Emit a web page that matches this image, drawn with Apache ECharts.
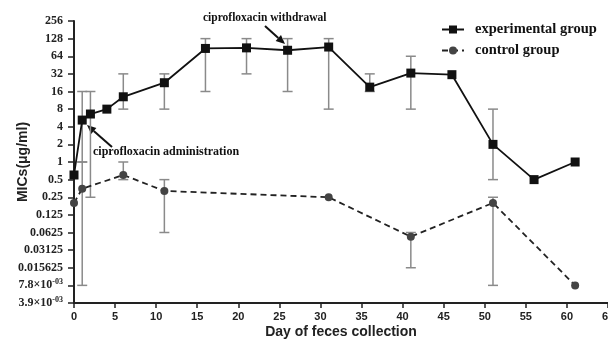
<!DOCTYPE html>
<html>
<head>
<meta charset="utf-8">
<script src="https://cdn.jsdelivr.net/npm/echarts@6/dist/echarts.min.js"></script>
<style>
  html, body { margin: 0; padding: 0; background: #fff; }
  #chart { width: 608px; height: 342px; }
</style>
</head>
<body>
<div id="chart"></div>
<script>
// data
const expDays = [0, 1, 2, 4, 6, 11, 16, 21, 26, 31, 36, 41, 46, 51, 56, 61];
const expValues = [0.6, 5.2, 6.6, 8, 13, 22.6, 87, 89, 81, 92, 19, 33, 31, 2, 0.5, 1];
const ctrlDays = [0, 1, 6, 11, 31, 41, 51, 61];
const ctrlValues = [0.2, 0.35, 0.6, 0.32, 0.25, 0.053, 0.2, 0.0078];

// error bars: day, low, high
const expErrDays = [1, 2, 6, 11, 16, 21, 26, 31, 36, 41, 51];
const expErrLow = [1, 0.25, 8, 8, 16, 32, 16, 8, 16, 8, 0.5];
const expErrHigh = [16, 16, 32, 32, 128, 128, 128, 128, 32, 64, 8];
const ctrlErrDays = [1, 6, 11, 41, 51];
const ctrlErrLow = [0.0078125, 0.5, 0.0625, 0.015625, 0.0078125];
const ctrlErrHigh = [1, 1, 0.5, 0.0625, 0.25];

const chart = echarts.init(document.getElementById("chart"));

const serif = "'Liberation Serif', 'DejaVu Serif', serif";
const sans = "'Liberation Sans', Arial, sans-serif";

const pairs = (xs, ys) => xs.map((x, i) => [x, ys[i]]);
const errData = (d, lo, hi) => d.map((x, i) => [x, lo[i], hi[i]]);

const renderErr = (params, api) => {
  const x = api.value(0);
  const lo = api.coord([x, api.value(1)]);
  const hi = api.coord([x, api.value(2)]);
  const w = 5;
  const style = { stroke: "#8a8a8a", lineWidth: 1.5 };
  return {
    type: "group",
    children: [
      { type: "line", shape: { x1: lo[0], y1: lo[1], x2: hi[0], y2: hi[1] }, style },
      { type: "line", shape: { x1: hi[0] - w, y1: hi[1], x2: hi[0] + w, y2: hi[1] }, style },
      { type: "line", shape: { x1: lo[0] - w, y1: lo[1], x2: lo[0] + w, y2: lo[1] }, style },
    ],
  };
};

const yLabel = (v) => {
  const p = Math.round(Math.log2(v));
  if (p === -7) return "{n|7.8×10}{s|-03}";
  if (p === -8) return "{n|3.9×10}{s|-03}";
  return "{n|" + String(Math.pow(2, p)) + "}";
};

// arrow helper (annotation only)
const arrow = (x1, y1, x2, y2) => {
  const a = Math.atan2(y2 - y1, x2 - x1);
  const L = 9, W = 4;
  const bx = x2 - L * Math.cos(a), by = y2 - L * Math.sin(a);
  return [
    { type: "line", shape: { x1, y1, x2: bx, y2: by }, style: { stroke: "#111", lineWidth: 2 } },
    {
      type: "polygon",
      shape: {
        points: [
          [x2, y2],
          [bx + W * Math.sin(a), by - W * Math.cos(a)],
          [bx - W * Math.sin(a), by + W * Math.cos(a)],
        ],
      },
      style: { fill: "#111" },
    },
  ];
};

const option = {
  animation: false,
  grid: { left: 74, right: 0, top: 21, bottom: 39, containLabel: false, outerBoundsMode: "none" },
  legend: {
    data: ["experimental group", "control group"],
    orient: "vertical",
    left: 436,
    top: 17,
    itemGap: 6,
    itemWidth: 22,
    itemHeight: 10,
    textStyle: { fontFamily: serif, fontWeight: "bold", fontSize: 14.5, color: "#111", padding: [0, 0, 0, 6] },
  },
  xAxis: {
    type: "value",
    min: 0,
    max: 65,
    interval: 5,
    name: "Day of feces collection",
    nameLocation: "middle",
    nameGap: 22,
    nameMoveOverlap: false,
    nameTextStyle: { fontFamily: sans, fontWeight: "bold", fontSize: 14, color: "#222" },
    axisLine: { lineStyle: { color: "#222", width: 2 } },
    axisTick: { length: 5, lineStyle: { color: "#222", width: 1.5 } },
    axisLabel: { fontFamily: sans, fontWeight: "bold", fontSize: 11, color: "#222", margin: 8 },
    splitLine: { show: false },
  },
  yAxis: {
    type: "log",
    logBase: 2,
    min: 0.00390625,
    max: 256,
    interval: 1,
    name: "MICs(μg/ml)",
    nameLocation: "middle",
    nameGap: 44,
    nameMoveOverlap: false,
    nameTextStyle: { fontFamily: sans, fontWeight: "bold", fontSize: 14, color: "#222" },
    axisLine: { show: true, lineStyle: { color: "#222", width: 2 } },
    axisTick: { show: true, length: 6, lineStyle: { color: "#222", width: 1.5 } },
    axisLabel: {
      margin: 11,
      formatter: yLabel,
      rich: {
        n: { fontFamily: serif, fontWeight: "bold", fontSize: 12, color: "#222" },
        s: { fontFamily: serif, fontWeight: "bold", fontSize: 8, color: "#222", verticalAlign: "top", padding: [0, 0, 6, 0] },
      },
    },
    splitLine: { show: false },
  },
  series: [
    {
      type: "custom",
      renderItem: renderErr,
      data: errData(expErrDays, expErrLow, expErrHigh),
      z: 1,
      silent: true,
    },
    {
      type: "custom",
      renderItem: renderErr,
      data: errData(ctrlErrDays, ctrlErrLow, ctrlErrHigh),
      z: 1,
      silent: true,
    },
    {
      name: "experimental group",
      type: "line",
      data: pairs(expDays, expValues),
      symbol: "rect",
      symbolSize: 9,
      itemStyle: { color: "#111" },
      lineStyle: { color: "#111", width: 1.8 },
      z: 3,
    },
    {
      name: "control group",
      type: "line",
      data: pairs(ctrlDays, ctrlValues),
      symbol: "circle",
      symbolSize: 8,
      itemStyle: { color: "#444" },
      lineStyle: { color: "#222", width: 1.8, type: [6, 4] },
      z: 3,
    },
  ],
  graphic: [
    {
      type: "text",
      left: 203,
      top: 12,
      style: { text: "ciprofloxacin withdrawal", font: "bold 11.5px " + serif, fill: "#111" },
    },
    {
      type: "text",
      left: 93,
      top: 146,
      style: { text: "ciprofloxacin administration", font: "bold 12px " + serif, fill: "#111" },
    },
    ...arrow(265, 26, 285, 44),
    ...arrow(112, 147, 87, 125),
  ],
};

chart.setOption(option);
</script>
</body>
</html>
